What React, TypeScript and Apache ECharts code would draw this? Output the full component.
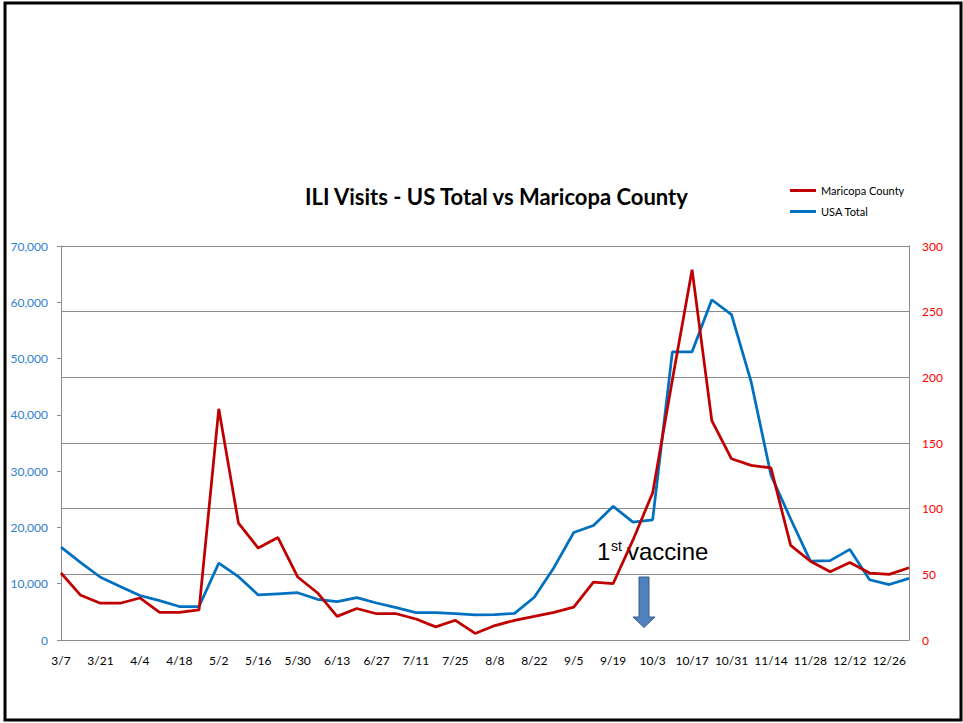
import React, { useEffect, useRef } from "react";
import * as echarts from "echarts";

const weeks: string[] = [
  "3/7", "3/14", "3/21", "3/28", "4/4", "4/11", "4/18", "4/25", "5/2", "5/9",
  "5/16", "5/23", "5/30", "6/6", "6/13", "6/20", "6/27", "7/4", "7/11", "7/18",
  "7/25", "8/1", "8/8", "8/15", "8/22", "8/29", "9/5", "9/12", "9/19", "9/26",
  "10/3", "10/10", "10/17", "10/24", "10/31", "11/7", "11/14", "11/21", "11/28", "12/5",
  "12/12", "12/19", "12/26", "1/2",
];

const usaTotal: number[] = [
  16500, 13750, 11150, 9500, 7900, 7000, 5950, 5950, 13650, 11250,
  8000, 8200, 8400, 7230, 6820, 7530, 6580, 5750, 4860, 4860,
  4680, 4450, 4500, 4740, 7590, 12900, 19100, 20330, 23750, 20950,
  21350, 51200, 51200, 60450, 57800, 45800, 29300, 21500, 14000, 14100,
  16100, 10700, 9850, 10950,
];

const maricopa: number[] = [
  51, 34, 28, 28, 32, 21, 21, 23, 176, 89,
  70, 78, 48, 36, 18, 24, 20, 20, 16, 10,
  15, 5, 11, 15, 18, 21, 25, 44, 43, 76,
  112, 198, 282, 167, 138, 133, 131, 72, 60, 52,
  59, 51, 50, 55,
];

const chartTitle = "ILI Visits - US Total vs Maricopa County";
const seriesNames = ["Maricopa County", "USA Total"];

const RED = "#C00000";
const BLUE = "#0070C0";
const GRID = "#8C8C8C";
const FONT = "Lato";

export default function App() {
  const ref = useRef<HTMLDivElement>(null);
  useEffect(() => {
    if (!ref.current) return;
    const chart = echarts.init(ref.current, undefined, { renderer: "svg" });
    chart.setOption({
      animation: false,
      backgroundColor: "#ffffff",
      title: {
        text: chartTitle,
        left: 300,
        top: 180,
        textStyle: { fontFamily: FONT, fontWeight: "bold", fontSize: 22, color: "#000" },
      },
      legend: {
        orient: "vertical",
        left: 790,
        top: 185,
        padding: 0,
        itemWidth: 26,
        itemHeight: 3,
        itemGap: 10,
        icon: "rect",
        data: seriesNames,
        textStyle: { fontFamily: FONT, fontSize: 11, color: "#000" },
      },
      grid: { left: 61, right: 54, top: 246, bottom: 83, containLabel: false },
      xAxis: {
        type: "category",
        data: weeks,
        boundaryGap: false,
        axisLine: { lineStyle: { color: GRID, width: 1 } },
        axisTick: { show: false },
        axisLabel: { interval: 1, color: "#000", fontFamily: FONT, fontSize: 12, margin: 14 },
        splitLine: { show: false },
      },
      yAxis: [
        {
          type: "value",
          min: 0,
          max: 70000,
          interval: 10000,
          position: "left",
          axisLine: { show: true, lineStyle: { color: GRID, width: 1 } },
          axisTick: { show: true, length: 4, lineStyle: { color: GRID } },
          axisLabel: {
            color: "#2F7FD0",
            fontFamily: FONT,
            fontSize: 12,
            margin: 13,
            formatter: (v: number) => v.toLocaleString("en-US"),
          },
          splitLine: { show: false },
        },
        {
          type: "value",
          min: 0,
          max: 300,
          interval: 50,
          position: "right",
          axisLine: { show: true, lineStyle: { color: GRID, width: 1 } },
          axisTick: { show: false },
          axisLabel: { color: "#FF0000", fontFamily: FONT, fontSize: 12, margin: 13 },
          splitLine: { show: true, lineStyle: { color: GRID, width: 1 } },
        },
      ],
      series: [
        {
          name: seriesNames[1],
          type: "line",
          data: usaTotal,
          yAxisIndex: 0,
          symbol: "none",
          color: BLUE,
          lineStyle: { color: BLUE, width: 2.75 },
        },
        {
          name: seriesNames[0],
          type: "line",
          data: maricopa,
          yAxisIndex: 1,
          symbol: "none",
          color: RED,
          lineStyle: { color: RED, width: 2.75 },
        },
      ],
      graphic: [
        {
          type: "rect",
          shape: { x: 5, y: 3, width: 956, height: 717 },
          style: { fill: "none", stroke: "#000", lineWidth: 3 },
          silent: true,
        },
        {
          type: "text",
          x: 597,
          y: 551,
          style: {
            text: "1",
            fontFamily: "Liberation Sans",
            fontSize: 24,
            fill: "#000",
            verticalAlign: "middle",
            align: "left",
          },
        },
        {
          type: "text",
          x: 611,
          y: 546,
          style: {
            text: "st",
            fontFamily: "Liberation Sans",
            fontSize: 14,
            fill: "#000",
            verticalAlign: "middle",
            align: "left",
          },
        },
        {
          type: "text",
          x: 627,
          y: 551,
          style: {
            text: "vaccine",
            fontFamily: "Liberation Sans",
            fontSize: 24,
            fill: "#000",
            verticalAlign: "middle",
            align: "left",
          },
        },
        {
          type: "polygon",
          shape: {
            points: [
              [639, 577],
              [649, 577],
              [649, 617],
              [655, 617],
              [644, 627.5],
              [633, 617],
              [639, 617],
            ],
          },
          style: { fill: "#4F81BD", stroke: "#385D8A", lineWidth: 1 },
        },
      ],
    });
    return () => chart.dispose();
  }, []);
  return (
    <div
      ref={ref}
      style={{ position: "absolute", left: 0, top: 0, width: 963, height: 723, background: "#fff" }}
    />
  );
}
